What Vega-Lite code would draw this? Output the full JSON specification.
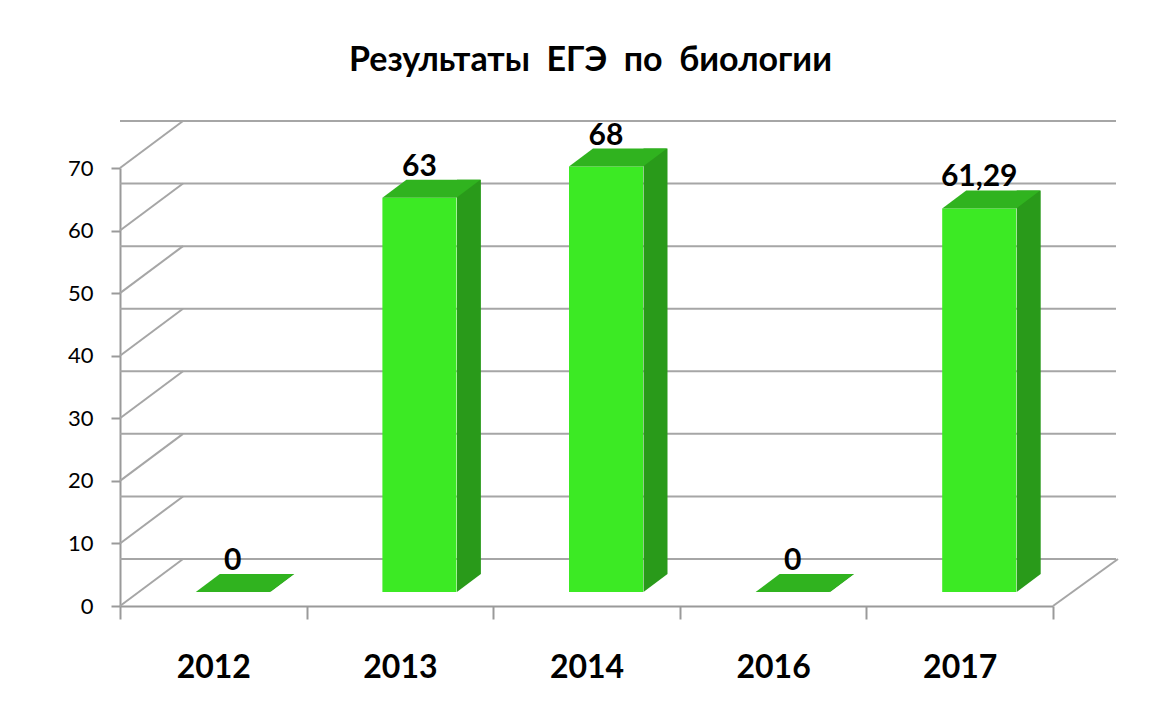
{
  "$schema": "https://vega.github.io/schema/vega-lite/v6.json",
  "autosize": {"type": "none"},
  "padding": {"left": 120, "top": 168, "right": 118, "bottom": 110},
  "width": 933,
  "height": 438,
  "background": "white",
  "title": {
    "text": "Результаты\u00a0 ЕГЭ\u00a0 по\u00a0 биологии",
    "font": "Lato",
    "fontSize": 34,
    "fontWeight": "bold",
    "color": "black",
    "anchor": "middle",
    "frame": "group",
    "baseline": "alphabetic",
    "offset": 15,
    "dx": 4
  },
  "datasets": {
    "results": [
      {"year": "2012", "value": 0},
      {"year": "2013", "value": 63},
      {"year": "2014", "value": 68},
      {"year": "2016", "value": 0},
      {"year": "2017", "value": 61.29}
    ],
    "grid": [
      {"v": 0}, {"v": 10}, {"v": 20}, {"v": 30}, {"v": 40}, {"v": 50}, {"v": 60}, {"v": 70}
    ]
  },
  "data": {"name": "results"},
  "encoding": {
    "x": {
      "field": "year",
      "type": "nominal",
      "sort": null,
      "scale": {"type": "band", "domain": ["2012", "2013", "2014", "2016", "2017"], "paddingInner": 0, "paddingOuter": 0},
      "axis": {
        "title": null,
        "labelAngle": 0,
        "labelFont": "Lato",
        "labelFontSize": 32,
        "labelFontWeight": "bold",
        "labelColor": "black",
        "labelPadding": 33,
        "tickBand": "extent",
        "tickSize": 13,
        "tickWidth": 2,
        "tickColor": "#9a9a9a",
        "domainColor": "#9a9a9a",
        "domainWidth": 2
      }
    }
  },
  "layer": [
    {
      "data": {"name": "grid"},
      "mark": {"type": "rule", "stroke": "#a6a6a6", "strokeWidth": 2, "xOffset": 63, "x2Offset": 65, "yOffset": -47, "y2Offset": -47},
      "encoding": {
        "x": null,
        "y": {
          "field": "v",
          "type": "quantitative",
          "scale": {"domain": [0, 70], "nice": false, "zero": true},
          "axis": {
            "title": null,
            "values": [0, 10, 20, 30, 40, 50, 60, 70],
            "grid": false,
            "labelFont": "Lato",
            "labelFontSize": 22,
            "labelColor": "black",
            "labelPadding": 18,
            "tickSize": 9,
            "tickWidth": 2,
            "tickColor": "#9a9a9a",
            "domainColor": "#9a9a9a",
            "domainWidth": 2
          }
        }
      }
    },
    {
      "data": {"name": "grid"},
      "mark": {"type": "rule", "stroke": "#a6a6a6", "strokeWidth": 2, "x2Offset": 63, "y2Offset": -47},
      "encoding": {
        "x": {"datum": "2012", "bandPosition": 0},
        "x2": {"datum": "2012", "bandPosition": 0},
        "y": {"field": "v", "type": "quantitative"},
        "y2": {"field": "v"}
      }
    },
    {
      "data": {"values": [{}]},
      "mark": {"type": "rule", "stroke": "#a6a6a6", "strokeWidth": 2, "x2Offset": 65, "y2Offset": -47},
      "encoding": {
        "x": {"datum": "2017", "bandPosition": 1},
        "x2": {"datum": "2017", "bandPosition": 1},
        "y": {"datum": 0, "type": "quantitative"},
        "y2": {"datum": 0}
      }
    },
    {
      "mark": {"type": "bar", "width": 24, "color": "#299a1a", "xOffset": 69, "yOffset": -32, "y2Offset": -32},
      "encoding": {
        "y": {"field": "value", "type": "quantitative"},
        "y2": {"datum": 0}
      }
    },
    {
      "mark": {"type": "point", "shape": "M0,0L0,-0.36L0.48,-0.36Z", "size": 10000, "filled": true, "opacity": 1, "color": "#299a1a", "strokeWidth": 0, "xOffset": 57, "yOffset": -14},
      "encoding": {
        "y": {"datum": 0, "type": "quantitative"}
      }
    },
    {
      "mark": {"type": "bar", "width": 74, "color": "#3cea24", "xOffset": 19.5, "yOffset": -14, "y2Offset": -14},
      "encoding": {
        "y": {"field": "value", "type": "quantitative"},
        "y2": {"datum": 0}
      }
    },
    {
      "mark": {"type": "point", "shape": "M-0.74,0L0.74,0L1.22,-0.36L-0.26,-0.36Z", "size": 10000, "filled": true, "opacity": 1, "color": "#30b31f", "strokeWidth": 0, "xOffset": 19.5, "yOffset": -14},
      "encoding": {
        "y": {"field": "value", "type": "quantitative"}
      }
    },
    {
      "mark": {"type": "text", "font": "Lato", "fontSize": 30, "fontWeight": "bold", "color": "black", "baseline": "alphabetic", "align": "center", "xOffset": 19.5, "yOffset": -36},
      "encoding": {
        "y": {"field": "value", "type": "quantitative"},
        "text": {"field": "value", "type": "quantitative", "format": ".2~f"}
      }
    }
  ],
  "config": {
    "view": {"stroke": null},
    "locale": {
      "number": {"decimal": ",", "thousands": " ", "grouping": [3], "currency": ["", ""]}
    }
  }
}
